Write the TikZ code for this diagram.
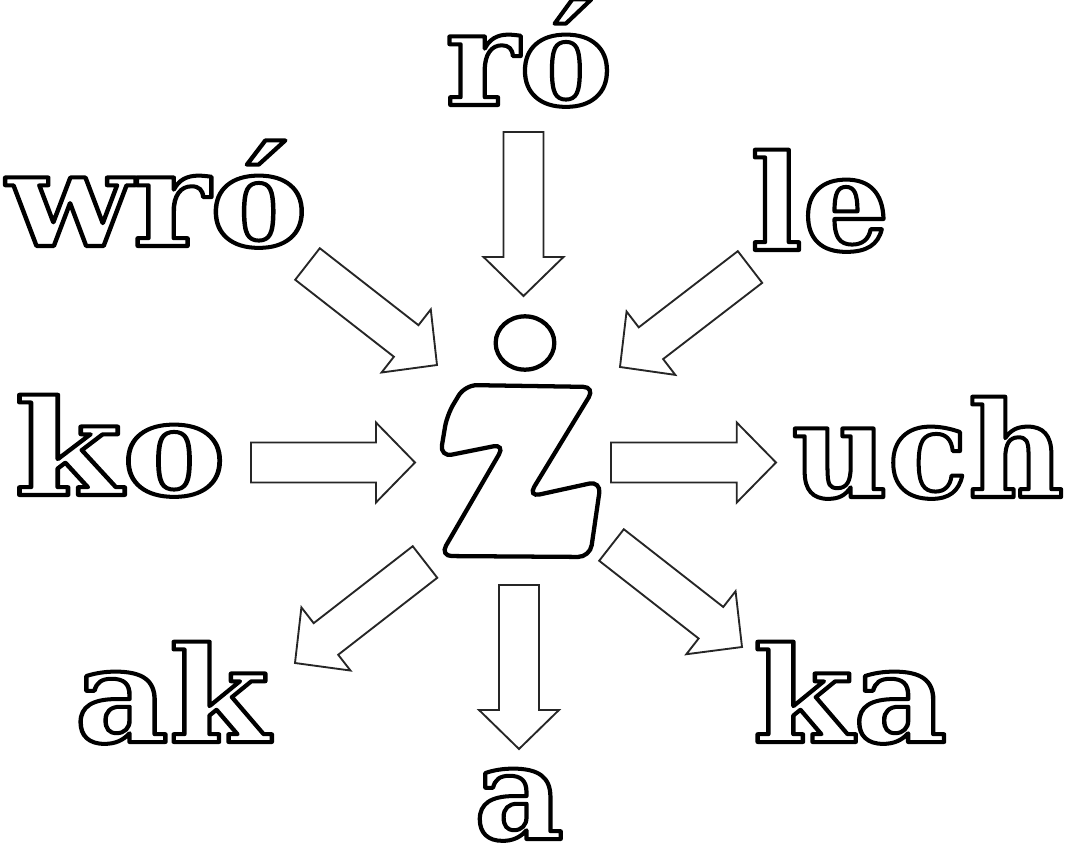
\documentclass[tikz,border=0pt]{standalone}
\usepackage{fontspec}
\setmainfont{DejaVu Serif}
\usetikzlibrary{calc,shapes.geometric}
\tikzset{
 word/.style={anchor=base, inner sep=0pt, font=\fontsize{99}{99}\selectfont\bfseries},
 barrow/.style={draw=black!85, line width=1.4pt, line join=miter, fill=white},
 zed/.style={draw=black, line width=3.2pt, fill=white, rounded corners=9pt},
 zdot/.style={draw=black, line width=3.2pt, ellipse, minimum width=44pt, minimum height=40pt, inner sep=0pt},
}
\newcommand\outl[2][1]{\scalebox{#1}[1]{\special{pdf:literal direct 1 Tr 3 w 1 j}#2\special{pdf:literal direct 0 Tr}}}
\newcommand\blockarrow[2]{%
 \coordinate (#1h) at ($(#1)!0.762!(#2)$);
 \draw[barrow] ($(#1)!15pt!90:(#2)$) -- ($(#1h)!15pt!90:(#2)$) -- ($(#1h)!30pt!90:(#2)$) -- (#2) -- ($(#1h)!30pt!-90:(#2)$) -- ($(#1h)!15pt!-90:(#2)$) -- ($(#1)!15pt!-90:(#2)$) -- cycle;}
\begin{document}
\begin{tikzpicture}[x=0.75pt,y=-0.75pt]
\path[use as bounding box] (0,0) rectangle (1075,853);
% words
\node[word] (ro) at (529,105) {\outl[1.06]{ró}};
\node[word] (wro) at (157,246) {\outl[1.11]{wró}};
\node[word] (le) at (820,250) {\outl[1.04]{le}};
\node[word] (ko) at (120,495) {\outl[1.18]{ko}};
\node[word] (uch) at (928,497) {\outl{uch}};
\node[word] (ak) at (172,742) {\outl[1.1]{ak}};
\node[word] (a) at (519,839) {\outl[1.05]{a}};
\node[word] (ka) at (850,742) {\outl[1.1]{ka}};
% arrow end points
\coordinate (t1) at (523.5,132); \coordinate (p1) at (523.5,296);
\coordinate (t2) at (307.5,264); \coordinate (p2) at (437,365);
\coordinate (t3) at (750,267);   \coordinate (p3) at (620,367);
\coordinate (t4) at (251,462.5); \coordinate (p4) at (415,462.5);
\coordinate (t5) at (611,462.5); \coordinate (p5) at (776,462.5);
\coordinate (t6) at (425,562);   \coordinate (p6) at (295,663);
\coordinate (t7) at (519,585);   \coordinate (p7) at (519,749);
\coordinate (t8) at (611.5,545); \coordinate (p8) at (742,647);
\blockarrow{t1}{p1}
\blockarrow{t2}{p2}
\blockarrow{t3}{p3}
\blockarrow{t4}{p4}
\blockarrow{t5}{p5}
\blockarrow{t6}{p6}
\blockarrow{t7}{p7}
\blockarrow{t8}{p8}
% central letter Z with dot
\node[zdot] (zd) at (525,343) {};
\draw[zed] (465,385) -- (595,387) -- (528,497) -- (601,481) -- (590,557) -- (440,556) -- (505,444) -- (440,457) -- (447,415) -- cycle;
\end{tikzpicture}
\end{document}
